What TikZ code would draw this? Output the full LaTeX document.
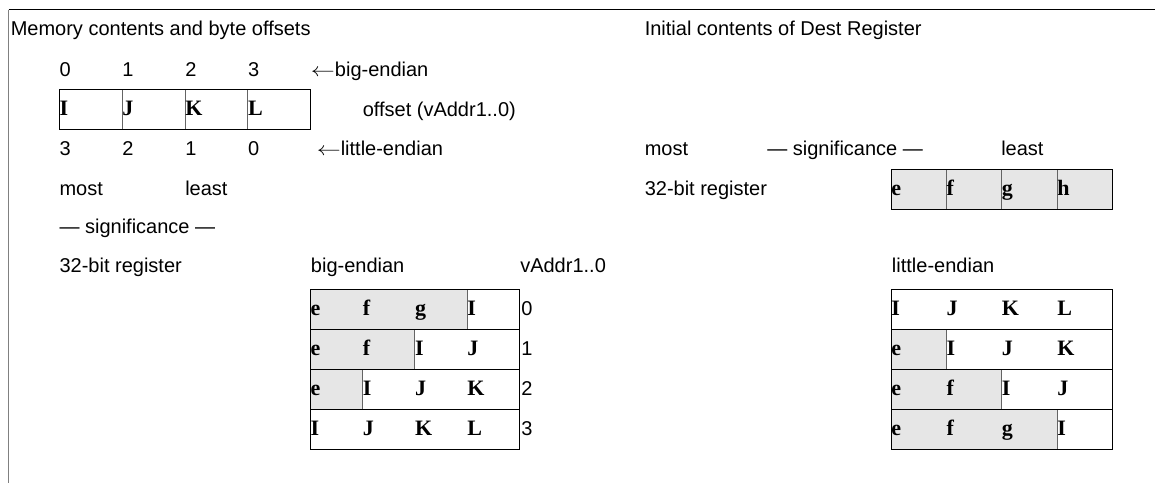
\documentclass[tikz,border=0pt]{standalone}
\usepackage{fontspec}
\setmainfont{Liberation Sans}
\newfontfamily\byteFont{Liberation Serif}
\usetikzlibrary{calc}
\definecolor{CellClr}{RGB}{230,230,230}
\definecolor{DivClr}{RGB}{100,100,100}
\definecolor{FrameClr}{RGB}{128,128,128}
\newcommand{\lArrow}{\scalebox{1.25}[1]{$\leftarrow$}}

\begin{document}
\begin{tikzpicture}[x=0.75pt,y=-0.75pt,
  lbl/.style={anchor=base west,inner sep=0pt,font=\fontsize{15}{18}\selectfont},
  byte/.style={anchor=base west,inner sep=0pt,font=\fontsize{16.5}{18}\selectfont\byteFont\bfseries},
  rowbox/.style={draw=black,line width=0.75pt},
  divline/.style={draw=DivClr,line width=0.75pt},
  greycell/.style={fill=CellClr}]
\useasboundingbox (0,0) rectangle (1155,483);

% frame
\draw[black,line width=1pt] (8.5,9.5) -- (1155,9.5);
\draw[FrameClr,line width=1.2pt] (8.5,9.5) -- (8.5,483);

% memory contents
\node[lbl] (T1) at (10.5,35) {Memory contents and byte offsets};
\node[lbl] (B0) at (59.3,76) {0};
\node[lbl] (B1) at (122.15,76) {1};
\node[lbl] (B2) at (185,76) {2};
\node[lbl] (B3) at (247.85,76) {3};
\node[lbl] (bigArrow) at (310.7,76) {\lArrow big-endian};

\draw[divline] (122.15,89) -- (122.15,129) (185,89) -- (185,129) (247.85,89) -- (247.85,129);
\draw[rowbox] (59.3,89) rectangle (310.7,129);
\node[byte] (mI) at (59.3,115.5) {I};
\node[byte] (mJ) at (122.15,115.5) {J};
\node[byte] (mK) at (185,115.5) {K};
\node[byte] (mL) at (247.85,115.5) {L};
\node[lbl] (offLbl) at (362.5,116) {offset (vAddr1..0)};

\node[lbl] (L3) at (59.3,155) {3};
\node[lbl] (L2) at (122.15,155) {2};
\node[lbl] (L1) at (185,155) {1};
\node[lbl] (L0) at (247.85,155) {0};
\node[lbl] (litArrow) at (316.5,155) {\lArrow little-endian};

\node[lbl] (most1) at (59.3,195) {most};
\node[lbl] (least1) at (185,195) {least};
\node[lbl] (sig1) at (59.3,233) {— significance —};
\node[lbl] (reg1) at (59.3,272) {32-bit register};

% big-endian result
\node[lbl] (beLbl) at (310.7,272) {big-endian};
\node[lbl] (vaLbl) at (520,272) {vAddr1..0};

\fill[greycell] (310.3,289.3) rectangle (467.05,329.3);
\fill[greycell] (310.3,329.3) rectangle (414.8,369.3);
\fill[greycell] (310.3,369.3) rectangle (362.55,409.3);
\draw[divline] (467.05,289.3) -- (467.05,329.3) (414.8,329.3) -- (414.8,369.3) (362.55,369.3) -- (362.55,409.3);
\draw[rowbox] (310.3,289.3) rectangle (519.3,329.3);
\draw[rowbox] (310.3,329.3) rectangle (519.3,369.3);
\draw[rowbox] (310.3,369.3) rectangle (519.3,409.3);
\draw[rowbox] (310.3,409.3) rectangle (519.3,449.3);

\node[byte] (be0e) at (310.3,315.8) {e};
\node[byte] (be0f) at (362.55,315.8) {f};
\node[byte] (be0g) at (414.8,315.8) {g};
\node[byte] (be0I) at (467.05,315.8) {I};
\node[byte] (be1e) at (310.3,355.8) {e};
\node[byte] (be1f) at (362.55,355.8) {f};
\node[byte] (be1I) at (414.8,355.8) {I};
\node[byte] (be1J) at (467.05,355.8) {J};
\node[byte] (be2e) at (310.3,395.8) {e};
\node[byte] (be2I) at (362.55,395.8) {I};
\node[byte] (be2J) at (414.8,395.8) {J};
\node[byte] (be2K) at (467.05,395.8) {K};
\node[byte] (be3I) at (310.3,435.8) {I};
\node[byte] (be3J) at (362.55,435.8) {J};
\node[byte] (be3K) at (414.8,435.8) {K};
\node[byte] (be3L) at (467.05,435.8) {L};

\node[lbl] (va0) at (521,315.8) {0};
\node[lbl] (va1) at (521,355.8) {1};
\node[lbl] (va2) at (521,395.8) {2};
\node[lbl] (va3) at (521,435.8) {3};

% dest register
\node[lbl] (T2) at (644.5,35) {Initial contents of Dest Register};
\node[lbl] (most2) at (644.5,155) {most};
\node[lbl] (sig2) at (767,155) {— significance —};
\node[lbl] (least2) at (1001,155) {least};
\node[lbl] (reg2) at (644.5,195) {32-bit register};

\fill[greycell] (891,169) rectangle (1112.4,209);
\draw[divline] (946.35,169) -- (946.35,209) (1001.7,169) -- (1001.7,209) (1057.05,169) -- (1057.05,209);
\draw[rowbox] (891,169) rectangle (1112.4,209);
\node[byte] (de) at (891,195.5) {e};
\node[byte] (df) at (946.35,195.5) {f};
\node[byte] (dg) at (1001.7,195.5) {g};
\node[byte] (dh) at (1057.05,195.5) {h};

% little-endian result
\node[lbl] (leLbl) at (891.7,272) {little-endian};

\fill[greycell] (891,329.3) rectangle (946.35,369.3);
\fill[greycell] (891,369.3) rectangle (1001.7,409.3);
\fill[greycell] (891,409.3) rectangle (1057.05,449.3);
\draw[divline] (946.35,329.3) -- (946.35,369.3) (1001.7,369.3) -- (1001.7,409.3) (1057.05,409.3) -- (1057.05,449.3);
\draw[rowbox] (891,289.3) rectangle (1112.4,329.3);
\draw[rowbox] (891,329.3) rectangle (1112.4,369.3);
\draw[rowbox] (891,369.3) rectangle (1112.4,409.3);
\draw[rowbox] (891,409.3) rectangle (1112.4,449.3);

\node[byte] (le0I) at (891,315.8) {I};
\node[byte] (le0J) at (946.35,315.8) {J};
\node[byte] (le0K) at (1001.7,315.8) {K};
\node[byte] (le0L) at (1057.05,315.8) {L};
\node[byte] (le1e) at (891,355.8) {e};
\node[byte] (le1I) at (946.35,355.8) {I};
\node[byte] (le1J) at (1001.7,355.8) {J};
\node[byte] (le1K) at (1057.05,355.8) {K};
\node[byte] (le2e) at (891,395.8) {e};
\node[byte] (le2f) at (946.35,395.8) {f};
\node[byte] (le2I) at (1001.7,395.8) {I};
\node[byte] (le2J) at (1057.05,395.8) {J};
\node[byte] (le3e) at (891,435.8) {e};
\node[byte] (le3f) at (946.35,435.8) {f};
\node[byte] (le3g) at (1001.7,435.8) {g};
\node[byte] (le3I) at (1057.05,435.8) {I};

\end{tikzpicture}
\end{document}
